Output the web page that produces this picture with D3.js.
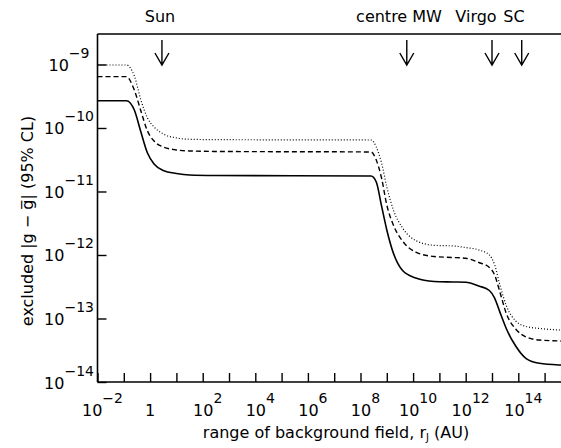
<!DOCTYPE html>
<html>
<head>
<meta charset="utf-8">
<script src="https://cdn.jsdelivr.net/npm/d3@7"></script>
<style>
  html, body { margin: 0; padding: 0; background: #fff; }
  svg { display: block; }
  text { font-family: "DejaVu Sans", sans-serif; fill: #000; }
</style>
</head>
<body>
<svg id="chart" width="561" height="448"></svg>
<script>
// Background-field range r_J, as powers of ten (AU)
const rExp = [-2, -0.9, -0.6, -0.35, -0.1, 0.15, 0.5, 1.0, 1.5, 2.5,
  8.4, 8.6, 8.8, 9.0, 9.25, 9.6, 10.1, 10.8, 11.5, 12.0,
  12.5, 12.9, 13.1, 13.3, 13.55, 13.9, 14.3, 14.8, 15.6, 16];

// Excluded |g - gbar| at 95% CL, three limits
const limitSolid = [2.69e-10, 2.69e-10, 1.92e-10, 8.65e-11, 4.03e-11, 2.71e-11, 2.14e-11, 1.92e-11, 1.82e-11, 1.79e-11,
  1.75e-11, 1.41e-11, 5.92e-12, 2.48e-12, 1.07e-12, 5.70e-13, 4.35e-13, 3.83e-13, 3.76e-13, 3.72e-13,
  3.25e-13, 2.76e-13, 2.10e-13, 1.26e-13, 6.84e-14, 3.69e-14, 2.34e-14, 1.97e-14, 1.85e-14, 1.83e-14];
const limitDashed = [6.43e-10, 6.43e-10, 3.96e-10, 1.85e-10, 8.97e-11, 6.24e-11, 5.02e-11, 4.51e-11, 4.35e-11, 4.27e-11,
  4.19e-11, 3.13e-11, 1.63e-11, 6.12e-12, 2.96e-12, 1.66e-12, 1.11e-12, 9.46e-13, 9.14e-13, 8.87e-13,
  7.62e-13, 6.35e-13, 4.84e-13, 2.61e-13, 1.18e-13, 6.84e-14, 5.12e-14, 4.58e-14, 4.43e-14, 4.38e-14];
const limitDotted = [9.82e-10, 9.82e-10, 6.59e-10, 2.76e-10, 1.44e-10, 1.04e-10, 8.05e-11, 6.97e-11, 6.64e-11, 6.55e-11,
  6.47e-11, 5.02e-11, 2.81e-11, 1.18e-11, 5.12e-12, 2.66e-12, 1.69e-12, 1.42e-12, 1.39e-12, 1.31e-12,
  1.20e-12, 1.00e-12, 7.00e-13, 3.37e-13, 1.57e-13, 9.14e-14, 7.48e-14, 6.97e-14, 6.59e-14, 6.52e-14];

// Axis ticks (powers of ten)
const xTickExp = d3.range(-2, 16);          // every decade
const xLabelExp = [-2, 0, 2, 4, 6, 8, 10, 12, 14];
const yTickExp = [-14, -13, -12, -11, -10, -9];

// Scale markers along the top
const markerNames = ["Sun", "centre MW", "Virgo", "SC"];
const markerExp = [0.45, 9.76, 13.0, 14.13];
const markerLabelX = [160, 399, 476, 514];

const svg = d3.select("#chart");
const plotLeft = 97.5, plotTop = 34, plotBottom = 382, decade = 26.3;

const x = d3.scaleLog().domain([1e-2, 1e16]).range([plotLeft, plotLeft + 18 * decade]);
const y = d3.scaleLog().domain([1e-14, Math.pow(10, -8.52)]).range([plotBottom, plotTop]);

// frame
const frame = svg.append("g").attr("stroke", "#000").attr("stroke-width", 1.6).attr("fill", "none");
frame.append("line").attr("x1", plotLeft).attr("x2", plotLeft).attr("y1", plotTop).attr("y2", plotBottom);
frame.append("line").attr("x1", plotLeft).attr("x2", x.range()[1]).attr("y1", plotBottom).attr("y2", plotBottom);
frame.append("line").attr("x1", plotLeft).attr("x2", x.range()[1]).attr("y1", plotTop).attr("y2", plotTop);

// bottom axis: inward ticks
const xAxis = d3.axisBottom(x).tickValues(xTickExp.map(e => Math.pow(10, e))).tickSizeInner(-9).tickSizeOuter(0).tickFormat("");
const gx = svg.append("g").attr("transform", `translate(0,${plotBottom})`).call(xAxis);
gx.select(".domain").remove();
gx.selectAll(".tick line").attr("stroke", "#000").attr("stroke-width", 1.4);

// left axis: inward ticks
const yAxis = d3.axisLeft(y).tickValues(yTickExp.map(e => Math.pow(10, e))).tickSizeInner(-9).tickSizeOuter(0).tickFormat("");
const gy = svg.append("g").attr("transform", `translate(${plotLeft},0)`).call(yAxis);
gy.select(".domain").remove();
gy.selectAll(".tick line").attr("stroke", "#000").attr("stroke-width", 1.4);

// power-of-ten label helper
function powLabel(sel, e) {
  if (e === 0) { sel.append("tspan").text("1"); return; }
  sel.append("tspan").text("10");
  sel.append("tspan").attr("dy", -13).attr("font-size", 14)
    .text(e < 0 ? "\u2212" + Math.abs(e) : String(e));
}

xLabelExp.forEach(e => {
  const t = svg.append("text")
    .attr("x", x(Math.pow(10, e)) + (e === 0 ? 0 : 5))
    .attr("y", 416).attr("font-size", 16).attr("text-anchor", "middle");
  powLabel(t, e);
});

yTickExp.forEach(e => {
  const t = svg.append("text")
    .attr("x", 69).attr("y", y(Math.pow(10, e)) + 6.5)
    .attr("font-size", 16).attr("text-anchor", "middle");
  powLabel(t, e);
});

// axis titles
const xt = svg.append("text").attr("x", 336).attr("y", 438).attr("font-size", 16).attr("text-anchor", "middle");
xt.append("tspan").text("range of background field, r");
xt.append("tspan").attr("font-size", 10).attr("dy", 3).text("J");
xt.append("tspan").attr("dy", -3).text(" (AU)");

svg.append("text")
  .attr("transform", "translate(33,221) rotate(-90)")
  .attr("font-size", 16).attr("text-anchor", "middle")
  .text("excluded |g \u2212 g\u0305| (95% CL)");

// limit curves
const line = d3.line()
  .x(d => x(Math.pow(10, d[0])))
  .y(d => y(d[1]))
  .curve(d3.curveMonotoneX);

const series = [
  { values: limitDotted, dash: "1,2", width: 1.2 },
  { values: limitDashed, dash: "5,3", width: 1.4 },
  { values: limitSolid, dash: null, width: 1.6 }
];

svg.append("clipPath").attr("id", "plotclip")
  .append("rect").attr("x", plotLeft).attr("y", plotTop)
  .attr("width", x.range()[1] - plotLeft).attr("height", plotBottom - plotTop);

svg.append("g").attr("clip-path", "url(#plotclip)")
  .selectAll("path").data(series).join("path")
  .attr("d", s => line(rExp.map((e, i) => [e, s.values[i]])))
  .attr("fill", "none").attr("stroke", "#000")
  .attr("stroke-width", s => s.width)
  .attr("stroke-dasharray", s => s.dash);

// markers: labels above the frame, arrows pointing down into the plot
markerNames.forEach((name, i) => {
  svg.append("text").attr("x", markerLabelX[i]).attr("y", 21.7)
    .attr("font-size", 16).attr("text-anchor", "middle").text(name);
  const mx = x(Math.pow(10, markerExp[i]));
  svg.append("path")
    .attr("d", `M${mx},40 L${mx},65 M${mx - 7},53 L${mx},65 L${mx + 7},53`)
    .attr("fill", "none").attr("stroke", "#000").attr("stroke-width", 1.4);
});
</script>
</body>
</html>
